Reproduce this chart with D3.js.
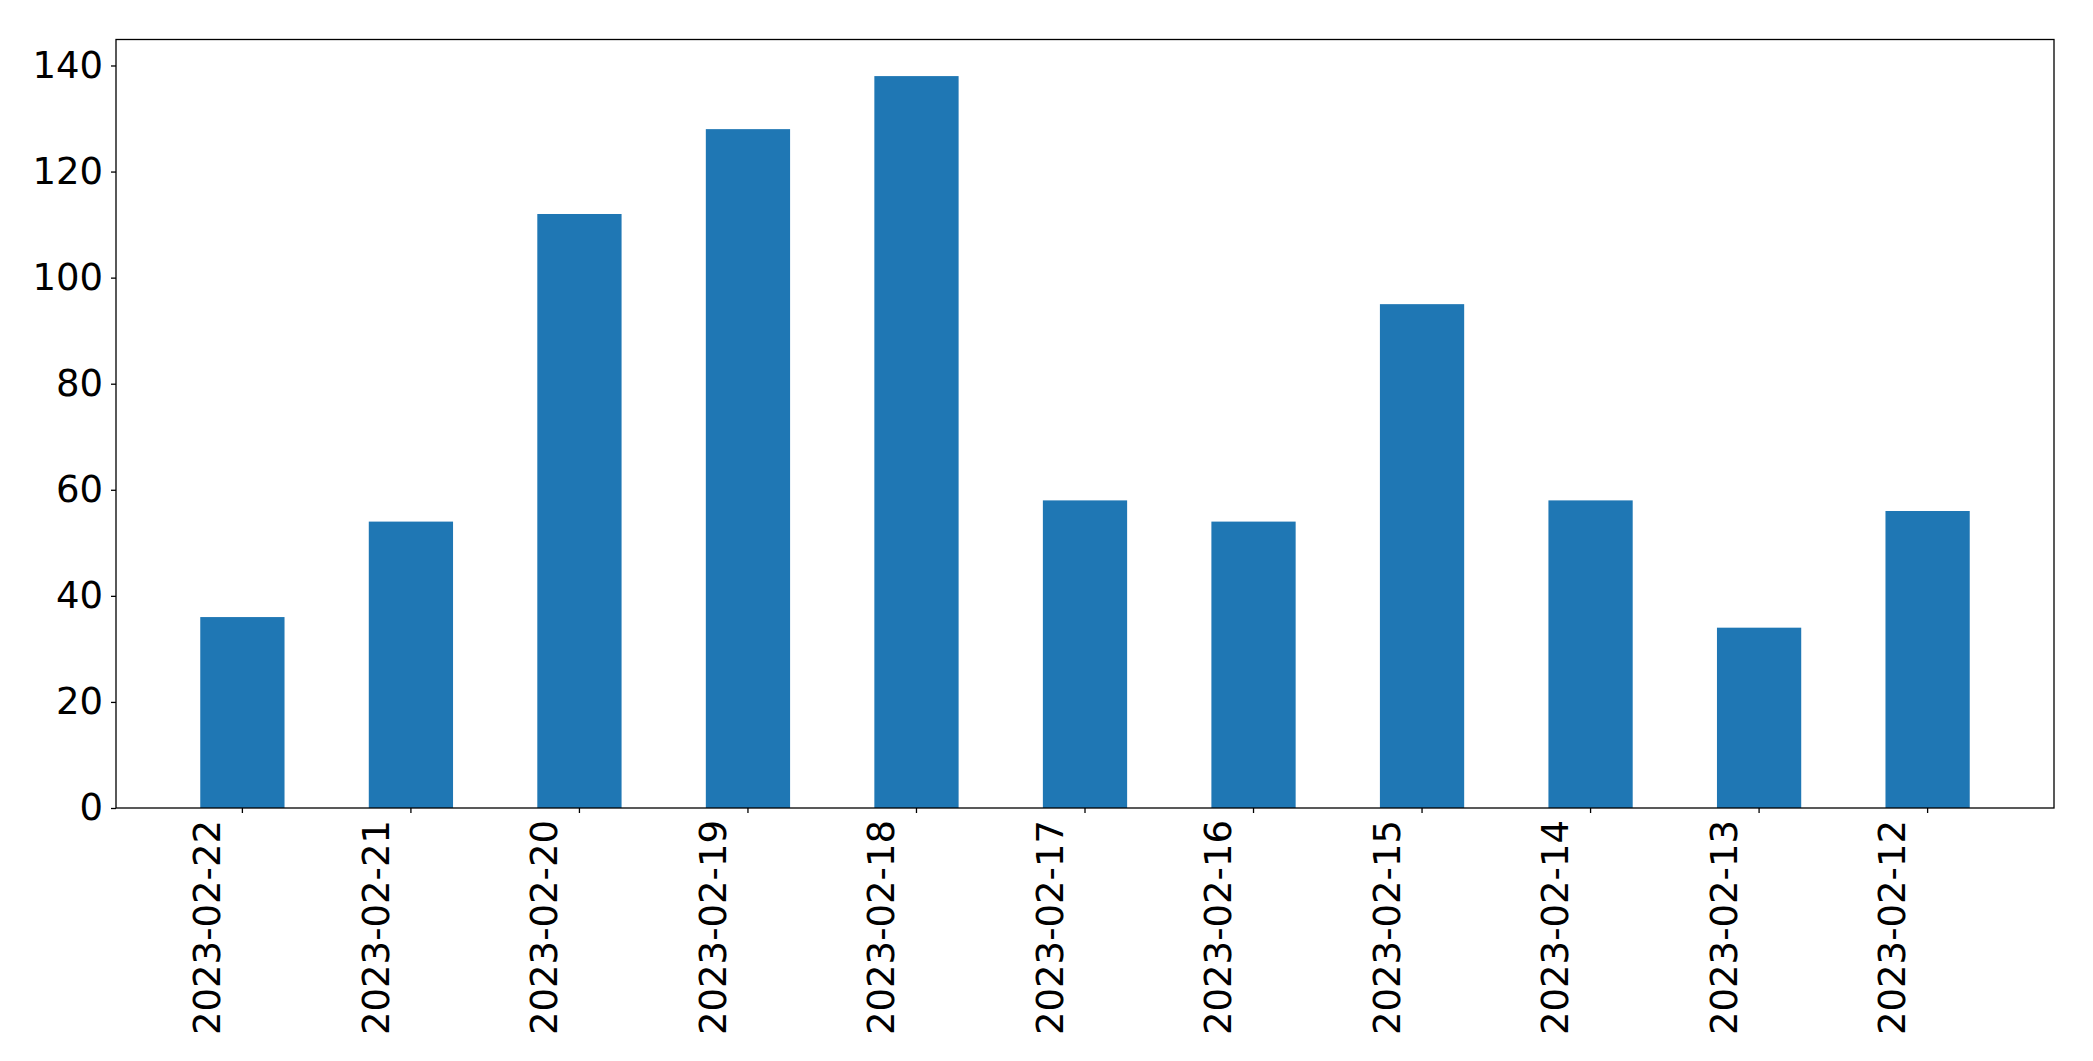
<!DOCTYPE html>
<html>
<head>
<meta charset="UTF-8">
<script src="https://d3js.org/d3.v7.min.js"></script>
<style>
  body { margin: 0; background: #fff; }
  text { font-family: "DejaVu Sans", sans-serif; }
</style>
</head>
<body>
<svg></svg>
<script>
  // data
  const dates = ["2023-02-22", "2023-02-21", "2023-02-20", "2023-02-19", "2023-02-18", "2023-02-17",
    "2023-02-16", "2023-02-15", "2023-02-14", "2023-02-13", "2023-02-12"];
  const counts = [36, 54, 112, 128, 138, 58, 54, 95, 58, 34, 56];
  const yTicks = [0, 20, 40, 60, 80, 100, 120, 140];

  let width = 2093, height = 1061;
  let margin = { top: 39.5, right: 39, bottom: 253, left: 116 };

  let svg = d3.select("svg").attr("width", width).attr("height", height);

  let x = d3.scaleBand().domain(dates)
    .range([margin.left, width - margin.right]).padding(0.5);
  let y = d3.scaleLinear().domain([0, d3.max(counts) * 1.05])
    .range([height - margin.bottom, margin.top]);

  // bars
  svg.append("g").selectAll("rect")
    .data(counts)
    .enter().append("rect")
    .attr("x", (d, i) => x(dates[i]))
    .attr("y", d => y(d))
    .attr("width", x.bandwidth())
    .attr("height", d => y(0) - y(d))
    .attr("fill", "#1f77b4");

  // axes
  let xAxis = svg.append("g")
    .attr("transform", "translate(0," + (height - margin.bottom) + ")")
    .call(d3.axisBottom(x).tickSize(5).tickPadding(10));
  xAxis.selectAll("text")
    .attr("font-size", "37px")
    .attr("transform", "rotate(-90)")
    .attr("text-anchor", "end")
    .attr("dx", "-12px")
    .attr("dy", "-0.6em")
    .attr("y", 0);

  let yAxis = svg.append("g")
    .attr("transform", "translate(" + margin.left + ",0)")
    .call(d3.axisLeft(y).tickValues(yTicks).tickSize(5).tickPadding(8));
  yAxis.selectAll("text").attr("font-size", "37px");

  svg.selectAll(".domain").remove();
  svg.selectAll(".tick line").attr("stroke", "#000").attr("stroke-width", 1.3);
  svg.selectAll(".tick text").attr("fill", "#000");

  // frame
  svg.append("rect")
    .attr("x", margin.left).attr("y", margin.top)
    .attr("width", width - margin.left - margin.right)
    .attr("height", height - margin.top - margin.bottom)
    .attr("fill", "none").attr("stroke", "#000").attr("stroke-width", 1.3);
</script>
</body>
</html>
